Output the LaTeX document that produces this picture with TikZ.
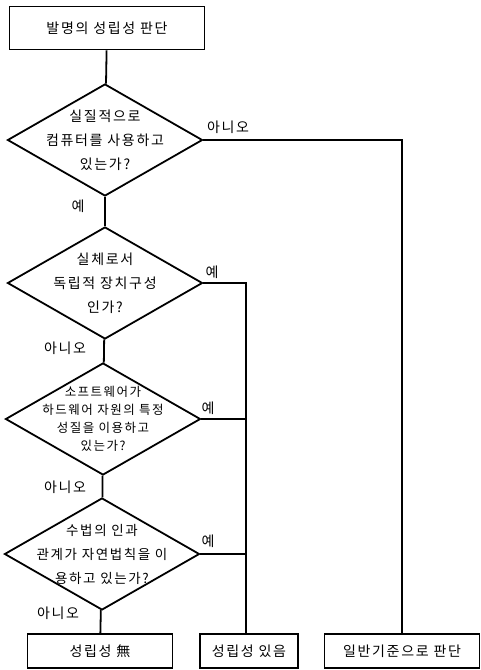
\documentclass[tikz,border=0pt]{standalone}
\usepackage{fontspec}
\newfontfamily\kr[LetterSpace=12]{Noto Sans CJK KR}
\usetikzlibrary{shapes.geometric}

\begin{document}
\begin{tikzpicture}[x=1pt,y=-1pt,line width=1.8pt,
    box/.style={draw,rectangle,inner sep=0pt,font=\kr\fontsize{14}{16}\selectfont},
    ask/.style={draw,diamond,inner sep=0pt,minimum width=195pt,minimum height=112pt},
    asktext/.style={align=center,inner sep=0pt,font=\kr\fontsize{14}{24}\selectfont},
    answer/.style={inner sep=0pt,font=\kr\fontsize{14}{16}\selectfont}]
    \useasboundingbox (0,0) rectangle (481,670);

	% Start box
	\node[box,minimum width=195pt,minimum height=43pt] (judge) at (107,28) {발명의 성립성 판단};

	% Questions
	\node[ask] (q1) at (105,140) {};
	\node[asktext] (q1text) at (q1.center) {실질적으로\\컴퓨터를 사용하고\\있는가?};
	\node[ask] (q2) at (105,283) {};
	\node[asktext] (q2text) at (q2.center) {실체로서\\독립적 장치구성\\인가?};
	\node[ask] (q3) at (103,419) {};
	\node[asktext,font=\kr\fontsize{12.5}{18}\selectfont] (q3text) at (q3.center) {소프트웨어가\\하드웨어 자원의 특정\\성질을 이용하고\\있는가?};
	\node[ask] (q4) at (102,554) {};
	\node[asktext,font=\kr\fontsize{13.5}{24}\selectfont] (q4text) at (q4.center) {수법의 인과\\관계가 자연법칙을 이\\용하고 있는가?};

	% Result boxes
	\node[box,minimum width=145pt,minimum height=34pt] (nobox) at (100,651) {성립성 無};
	\node[box,minimum width=98pt,minimum height=34pt] (yesbox) at (249,651) {성립성 있음};
	\node[box,minimum width=155pt,minimum height=34pt] (general) at (402,651) {일반기준으로 판단};

	% Connectors
	\draw (judge) -- (q1);
	\draw (q1) -- (q2);
	\draw (q2) -- (q3);
	\draw (q3) -- (q4);
	\draw (q4) -- (nobox);
	\draw (q1.east) -| (general.north);
	\coordinate (yesline) at ([xshift=-3pt]yesbox.north);
	\draw (q2.east) -| (yesline);
	\draw (q3.east) -- (q3.east -| yesline);
	\draw (q4.east) -- (q4.east -| yesline);

	% Answers
	\node[answer] (a1) at (228,127) {아니오};
	\node[answer] (a2) at (78,206) {예};
	\node[answer] (a3) at (212,272) {예};
	\node[answer] (a4) at (65,348) {아니오};
	\node[answer] (a5) at (208,408) {예};
	\node[answer] (a6) at (65,487) {아니오};
	\node[answer] (a7) at (208,541) {예};
	\node[answer] (a8) at (58,613) {아니오};

\end{tikzpicture}
\end{document}
